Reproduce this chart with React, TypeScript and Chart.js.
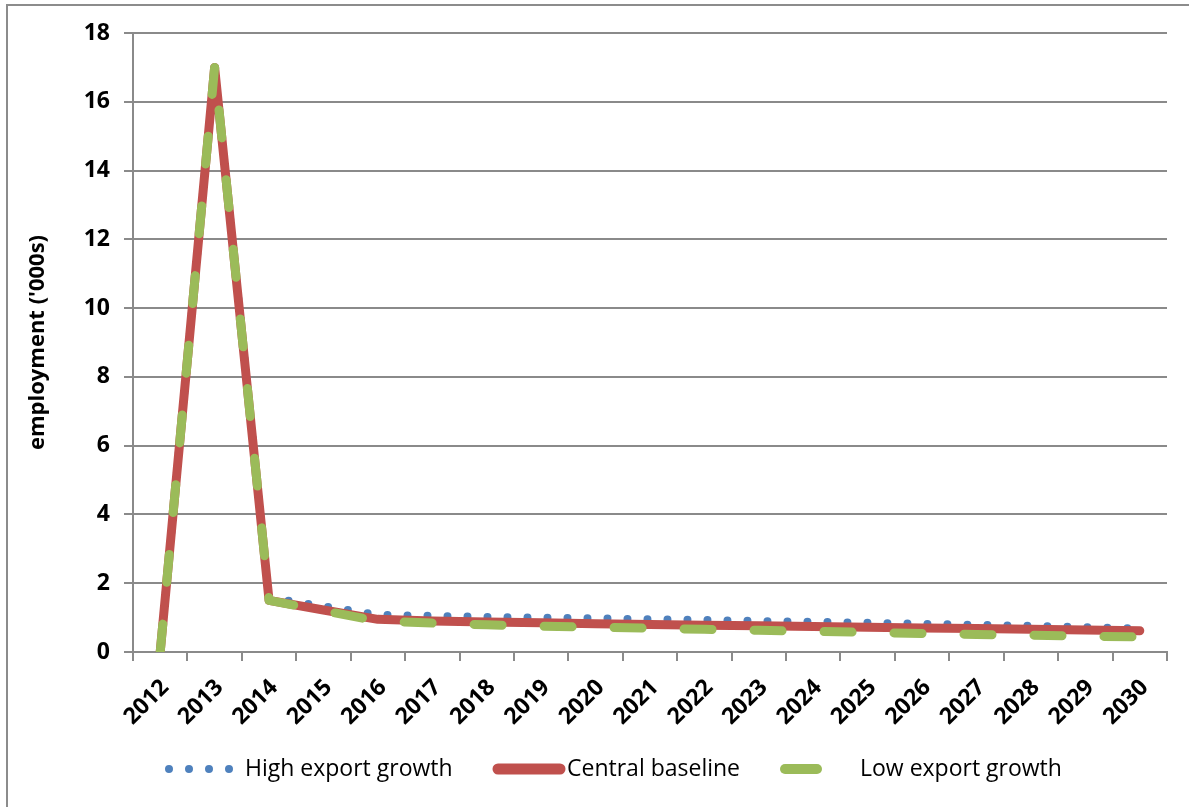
import React, { useEffect, useRef } from "react";
import { Chart, registerables } from "chart.js";

Chart.register(...registerables);

const years = [
  "2012", "2013", "2014", "2015", "2016", "2017", "2018", "2019", "2020", "2021",
  "2022", "2023", "2024", "2025", "2026", "2027", "2028", "2029", "2030",
];
const highExport = [0, 17, 1.58, 1.33, 1.08, 1.05, 1.02, 1.0, 0.98, 0.95, 0.93, 0.9, 0.88, 0.85, 0.82, 0.79, 0.76, 0.72, 0.68];
const centralBaseline = [0, 17, 1.5, 1.22, 0.95, 0.9, 0.87, 0.85, 0.82, 0.8, 0.78, 0.76, 0.74, 0.72, 0.7, 0.68, 0.66, 0.64, 0.62];
const lowExport = [0, 17, 1.5, 1.2, 0.9, 0.84, 0.79, 0.75, 0.72, 0.69, 0.66, 0.63, 0.6, 0.57, 0.54, 0.51, 0.49, 0.46, 0.44];
const seriesNames = ["High export growth", "Central baseline", "Low export growth"];
const yAxisTitle = "employment ('000s)";
const yMin = 0;
const yMax = 18;
const yStep = 2;

const GRID = "#8a8a8a";
const FONT = '"Open Sans", "Noto Sans", sans-serif';

const legendPlugin = {
  id: "excelLegend",
  afterDraw(chart: any) {
    const ctx = chart.ctx as CanvasRenderingContext2D;
    const y = 769;
    const layout = [
      { x0: 169, x1: 230, tx: 245 },
      { x0: 498, x1: 560, tx: 567 },
      { x0: 785, x1: 817, tx: 860 },
    ];
    chart.data.datasets.forEach((ds: any, i: number) => {
      const L = layout[i];
      ctx.save();
      ctx.strokeStyle = ds.borderColor;
      ctx.lineWidth = ds.legendWidth ?? ds.borderWidth;
      ctx.lineCap = "round";
      ctx.setLineDash(i === 2 ? [] : ds.borderDash || []);
      ctx.beginPath();
      ctx.moveTo(L.x0, y);
      ctx.lineTo(L.x1, y);
      ctx.stroke();
      ctx.setLineDash([]);
      ctx.fillStyle = "#000";
      ctx.font = `23px ${FONT}`;
      ctx.textBaseline = "middle";
      ctx.textAlign = "left";
      ctx.fillText(ds.label, L.tx, y);
      ctx.restore();
    });
  },
};

export default function App() {
  const ref = useRef<HTMLCanvasElement | null>(null);

  useEffect(() => {
    if (!ref.current) return;
    const chart = new Chart(ref.current, {
      type: "line",
      data: {
        labels: years,
        datasets: [
          {
            label: seriesNames[0],
            data: highExport,
            borderColor: "#4f81bd",
            borderWidth: 8,
            borderDash: [0, 20],
            borderCapStyle: "round",
            borderJoinStyle: "round",
            pointRadius: 0,
            tension: 0,
            order: 3,
          } as any,
          {
            label: seriesNames[1],
            data: centralBaseline,
            borderColor: "#c0504d",
            borderWidth: 9,
            legendWidth: 11,
            borderCapStyle: "round",
            borderJoinStyle: "round",
            pointRadius: 0,
            tension: 0,
            order: 2,
          } as any,
          {
            label: seriesNames[2],
            data: lowExport,
            borderColor: "#9bbb59",
            borderWidth: 9,
            legendWidth: 10,
            borderDash: [28, 42],
            borderCapStyle: "round",
            borderJoinStyle: "round",
            pointRadius: 0,
            tension: 0,
            order: 1,
          } as any,
        ],
      },
      options: {
        responsive: false,
        animation: false,
        layout: { padding: { left: 8, top: 33, right: 22, bottom: 0 } },
        plugins: {
          legend: { display: false },
          tooltip: { enabled: false },
        },
        scales: {
          x: {
            type: "category",
            offset: true,
            grid: {
              display: true,
              offset: true,
              drawOnChartArea: false,
              drawTicks: true,
              tickLength: 9,
              color: GRID,
              lineWidth: 2,
            },
            border: { display: true, color: GRID, width: 2 },
            ticks: {
              autoSkip: false,
              minRotation: 45,
              maxRotation: 45,
              color: "#000",
              padding: 13,
              labelOffset: 5,
              font: { family: FONT, size: 23, weight: "bold" },
            },
            afterFit: (scale: any) => {
              scale.height = 155;
            },
          },
          y: {
            min: yMin,
            max: yMax,
            ticks: {
              stepSize: yStep,
              color: "#000",
              padding: 14,
              font: { family: FONT, size: 23, weight: "bold" },
            },
            grid: {
              color: GRID,
              lineWidth: 2,
              tickLength: 9,
            },
            border: { display: true, color: GRID, width: 2 },
            title: {
              display: true,
              text: yAxisTitle,
              color: "#000",
              padding: { top: 17, bottom: 0 },
              font: { family: FONT, size: 22, weight: "bold" },
            },
            afterFit: (scale: any) => {
              scale.width = 125;
            },
          },
        },
      } as any,
      plugins: [legendPlugin],
    });
    return () => chart.destroy();
  }, []);

  return (
    <div
      style={{
        position: "fixed",
        left: 0,
        top: 0,
        width: 1189,
        height: 807,
        overflow: "hidden",
        background: "#fff",
      }}
    >
      <div
        style={{
          position: "absolute",
          left: 6,
          top: 4,
          width: 1400,
          height: 1000,
          borderLeft: "2px solid #8c8c8c",
          borderTop: "2px solid #8c8c8c",
        }}
      />
      <canvas
        ref={ref}
        width={1189}
        height={807}
        style={{ position: "absolute", left: 0, top: 0, width: 1189, height: 807 }}
      />
    </div>
  );
}
